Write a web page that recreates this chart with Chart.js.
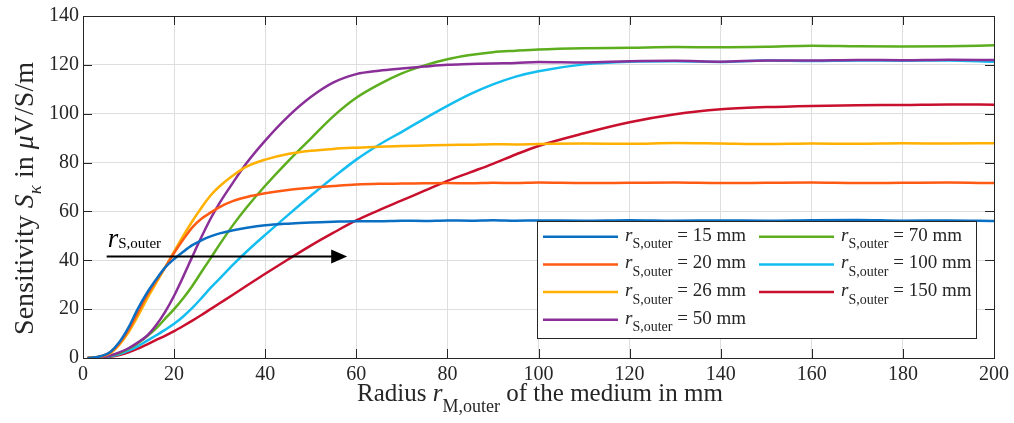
<!DOCTYPE html>
<html>
<head>
<meta charset="utf-8">
<script src="https://cdn.jsdelivr.net/npm/chart.js@4"></script>
<style>
  body { margin: 0; background: #fff; }
  canvas { display: block; }
</style>
</head>
<body>
<canvas id="chart" width="1014" height="423"></canvas>
<script>
// radius of the medium in mm (shared x grid for all curves)
const radius = [1, 2, 4, 6, 8, 10, 12, 14, 16, 18, 20, 22, 24, 26, 28, 30, 33, 36, 40, 45, 50, 55, 60, 65, 70, 75, 80, 85, 90, 95, 100, 110, 120, 130, 140, 150, 160, 170, 180, 190, 200];

// sensitivity in uV/S/m, one list per sensor radius
const sens15 = [0, 0.1, 0.8, 2.5, 6.5, 12.5, 20, 26.5, 32, 37, 40.5, 43.5, 46.2, 48.2, 49.8, 51, 52.3, 53.3, 54.3, 55, 55.5, 55.8, 56, 56, 56.2, 56.1, 56.3, 56.2, 56.4, 56.2, 56.3, 56.2, 56.4, 56.2, 56.3, 56.2, 56.4, 56.5, 56.2, 56.3, 56.1];
const sens20 = [0, 0.1, 0.7, 2.3, 6, 11.5, 18.5, 25.5, 31.5, 37, 43, 48.5, 53.5, 57, 59.5, 61.8, 64.3, 65.9, 67.4, 68.8, 69.7, 70.4, 71, 71.3, 71.4, 71.5, 71.6, 71.5, 71.7, 71.6, 71.8, 71.6, 71.7, 71.8, 71.6, 71.7, 71.8, 71.6, 71.7, 71.8, 71.6];
const sens26 = [0, 0.1, 0.6, 2, 5.5, 10.5, 17, 24, 30.5, 37, 43.5, 50, 56, 61.5, 66.5, 70.3, 74.8, 78.4, 81.2, 83.5, 84.8, 85.6, 86.1, 86.5, 86.8, 87, 87.2, 87.3, 87.5, 87.4, 87.6, 87.8, 87.7, 88, 87.8, 87.6, 87.8, 87.7, 87.9, 87.8, 87.9];
const sens50 = [0, 0.05, 0.3, 1, 2.3, 4, 6.3, 9, 13.3, 18.8, 25.5, 33.3, 41.5, 49.5, 57, 63.5, 72, 80, 89, 98.8, 106.8, 112.8, 116.2, 117.6, 118.5, 119.3, 120, 120.3, 120.6, 120.8, 121.2, 121, 121.5, 121.7, 121.3, 121.8, 121.8, 122, 121.9, 122.1, 122];
const sens70 = [0, 0.05, 0.3, 1, 2, 3.8, 6, 8.8, 12, 16, 20, 24.5, 29.5, 35.2, 40.8, 46.5, 54.6, 61.8, 70.5, 80.5, 89.8, 99, 106.5, 112, 116.5, 119.8, 122.3, 124, 125.2, 125.8, 126.3, 126.8, 127, 127.3, 127.2, 127.4, 127.8, 127.6, 127.5, 127.6, 128];
const sens100 = [0, 0.03, 0.2, 0.7, 1.6, 3, 4.8, 7, 9.2, 11.5, 14, 17, 20.5, 24.5, 28.7, 32.5, 38.3, 43.7, 50.4, 58.5, 66.4, 74, 81.2, 87.3, 92.6, 98, 103.2, 108, 112, 115.2, 117.4, 120.2, 121.3, 121.5, 121.2, 121.8, 121.6, 121.8, 121.7, 121.8, 121.3];
const sens150 = [0, 0.02, 0.1, 0.5, 1.2, 2.3, 3.8, 5.5, 7.3, 9.1, 11, 13.1, 15.3, 17.6, 20, 22.4, 26, 29.7, 34.5, 40.3, 46, 51.3, 56.3, 60.5, 64.5, 68.5, 72.5, 76, 79.5, 83.3, 86.8, 92, 96.5, 99.8, 101.8, 102.7, 103.2, 103.5, 103.6, 103.8, 103.7];

const outerRadii = [15, 20, 26, 50, 70, 100, 150];
const seriesValues = [sens15, sens20, sens26, sens50, sens70, sens100, sens150];
const lineColors = ['#0a6fc2', '#ff5a14', '#ffb000', '#8a2f98', '#5cae1e', '#14bdf0', '#c8102e'];

// arrow annotation in data units
const arrowFrom = { x: 5.2, y: 41.5 };
const arrowTo = { x: 58, y: 41.5 };

const SERIF = '"Liberation Serif", "Times New Roman", serif';
const INK = '#262626';

function setFont(ctx, size, italic) {
    ctx.font = (italic ? 'italic ' : '') + size + 'px ' + SERIF;
}

function richWidth(ctx, parts) {
    let w = 0;
    parts.forEach(p => { setFont(ctx, p.size, p.italic); w += ctx.measureText(p.text).width; });
    return w;
}

function drawRich(ctx, x, y, parts) {
    let cx = x;
    parts.forEach(p => {
        setFont(ctx, p.size, p.italic);
        ctx.fillText(p.text, cx, y + (p.dy || 0));
        cx += ctx.measureText(p.text).width;
    });
}

const decor = {
    id: 'decor',
    afterDraw(chart) {
        const { ctx, chartArea: a, scales: { x, y } } = chart;
        ctx.save();
        ctx.strokeStyle = INK;
        ctx.lineWidth = 1;

        // inward ticks on all four sides
        ctx.beginPath();
        x.ticks.forEach(t => {
            const px = Math.round(x.getPixelForValue(t.value)) + 0.5;
            ctx.moveTo(px, a.bottom); ctx.lineTo(px, a.bottom - 9);
            ctx.moveTo(px, a.top); ctx.lineTo(px, a.top + 9);
        });
        y.ticks.forEach(t => {
            const py = Math.round(y.getPixelForValue(t.value)) + 0.5;
            ctx.moveTo(a.left, py); ctx.lineTo(a.left + 9, py);
            ctx.moveTo(a.right, py); ctx.lineTo(a.right - 9, py);
        });
        ctx.stroke();
        ctx.strokeRect(Math.round(a.left) + 0.5, Math.round(a.top) + 0.5,
            Math.round(a.right - a.left), Math.round(a.bottom - a.top));

        // arrow showing growing sensor radius
        const ax0 = x.getPixelForValue(arrowFrom.x), ay = y.getPixelForValue(arrowFrom.y);
        const ax1 = x.getPixelForValue(arrowTo.x);
        ctx.strokeStyle = '#000';
        ctx.fillStyle = '#000';
        ctx.lineWidth = 2;
        ctx.beginPath();
        ctx.moveTo(ax0, ay); ctx.lineTo(ax1 - 12, ay);
        ctx.stroke();
        ctx.beginPath();
        ctx.moveTo(ax1, ay); ctx.lineTo(ax1 - 16, ay - 7); ctx.lineTo(ax1 - 16, ay + 7);
        ctx.closePath();
        ctx.fill();
        ctx.textBaseline = 'alphabetic';
        ctx.textAlign = 'left';
        drawRich(ctx, ax0 + 1, ay - 10, [
            { text: 'r', size: 27, italic: true },
            { text: 'S,outer', size: 15, dy: 1 }
        ]);

        // legend box
        const lx = 537, ly = 221, lw = 439, lh = 117;
        ctx.fillStyle = '#fff';
        ctx.fillRect(lx, ly, lw, lh);
        ctx.strokeStyle = INK;
        ctx.lineWidth = 1;
        ctx.strokeRect(lx + 0.5, ly + 0.5, lw, lh);
        outerRadii.forEach((r, i) => {
            const col = i < 4 ? 0 : 1;
            const row = i < 4 ? i : i - 4;
            const x0 = col === 0 ? 543 : 759;
            const rowY = 236.7 + row * 27.7;
            ctx.strokeStyle = lineColors[i];
            ctx.lineWidth = 2.5;
            ctx.beginPath();
            ctx.moveTo(x0, rowY); ctx.lineTo(x0 + 75, rowY);
            ctx.stroke();
            ctx.fillStyle = INK;
            drawRich(ctx, x0 + 82, rowY + 4, [
                { text: 'r', size: 19, italic: true },
                { text: 'S,outer', size: 14, dy: 7.5 },
                { text: ' = ' + r + ' mm', size: 19 }
            ]);
        });

        // axis titles
        ctx.fillStyle = INK;
        const xParts = [
            { text: 'Radius ', size: 25 },
            { text: 'r', size: 25, italic: true },
            { text: 'M,outer', size: 18, dy: 11 },
            { text: ' of the medium in mm', size: 25 }
        ];
        drawRich(ctx, 540 - richWidth(ctx, xParts) / 2, 401, xParts);

        const yParts = [
            { text: 'Sensitivity ', size: 28 },
            { text: 'S', size: 28, italic: true },
            { text: '\u03ba', size: 19, italic: true, dy: 8 },
            { text: ' in ', size: 28 },
            { text: '\u03bc', size: 28, italic: true },
            { text: 'V/S/m', size: 28 }
        ];
        ctx.translate(33, 198.5);
        ctx.rotate(-Math.PI / 2);
        drawRich(ctx, -richWidth(ctx, yParts) / 2, 0, yParts);
        ctx.restore();
    }
};

new Chart(document.getElementById('chart').getContext('2d'), {
    type: 'line',
    data: {
        datasets: seriesValues.map((vals, i) => ({
            label: 'r_S,outer = ' + outerRadii[i] + ' mm',
            data: vals.map((v, j) => ({ x: radius[j], y: v })),
            borderColor: lineColors[i],
            borderWidth: 2.5,
            pointRadius: 0,
            cubicInterpolationMode: 'monotone',
            fill: false
        }))
    },
    options: {
        responsive: false,
        animation: false,
        layout: { padding: { left: 0, right: 18, top: 16, bottom: 0 } },
        plugins: {
            legend: { display: false },
            tooltip: { enabled: false }
        },
        scales: {
            x: {
                type: 'linear',
                min: 0,
                max: 200,
                afterFit: s => { s.height = 65; },
                ticks: { stepSize: 20, color: INK, padding: 5, maxRotation: 0, font: { family: SERIF, size: 20 } },
                grid: { color: '#dedede', drawTicks: false },
                border: { display: false }
            },
            y: {
                min: 0,
                max: 140,
                afterFit: s => { s.width = 83; },
                ticks: { stepSize: 20, color: INK, padding: 4, font: { family: SERIF, size: 20 } },
                grid: { color: '#dedede', drawTicks: false },
                border: { display: false }
            }
        }
    },
    plugins: [decor]
});
</script>
</body>
</html>
